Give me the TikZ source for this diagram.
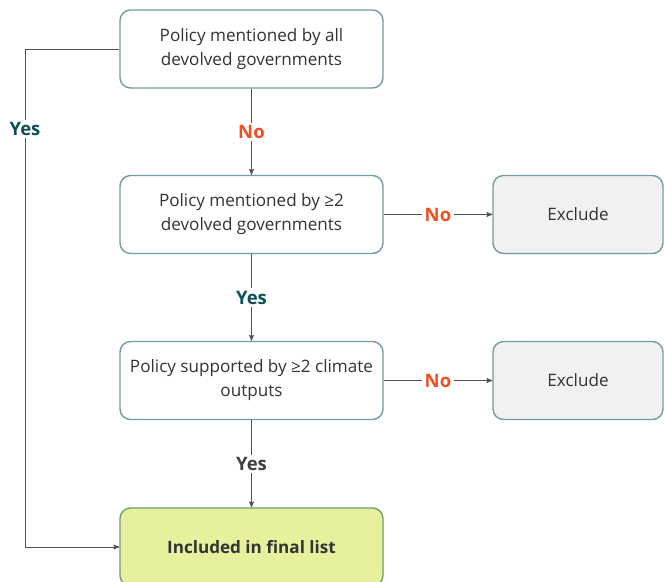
\documentclass[tikz,border=0pt]{standalone}
\usepackage{fontspec}
\setmainfont{Open Sans}
\usepackage{xcolor}
\usetikzlibrary{arrows,positioning}
\tikzset{>=stealth'}
\definecolor{boxline}{RGB}{112,156,160}
\definecolor{exfill}{RGB}{241,241,241}
\definecolor{infill}{RGB}{231,241,157}
\definecolor{inline}{RGB}{108,160,112}
\definecolor{noclr}{RGB}{240,78,35}
\definecolor{yesclr}{RGB}{12,80,86}
\definecolor{arrowclr}{RGB}{80,80,80}

\begin{document}
\begin{tikzpicture}[x=0.03cm,y=-0.03cm,
                    step box/.style={draw=boxline, line width=1.2pt, rounded corners=9pt,
                                     fill=white, minimum width=7.89cm, minimum height=2.34cm,
                                     align=center, text=black!80, font=\fontsize{14.6}{20.5}\selectfont},
                    exclude box/.style={step box, fill=exfill, minimum width=5.1cm},
                    final box/.style={step box, draw=inline, fill=infill, font=\fontsize{14.6}{20.5}\selectfont\bfseries},
                    link/.style={arrowclr, line width=0.8pt, ->, >={stealth'[scale=1.3]}},
                    no/.style={fill=white, text=noclr, font=\fontsize{15.8}{19}\selectfont\bfseries, inner sep=2pt},
                    yes/.style={fill=white, text=yesclr, font=\fontsize{15.8}{19}\selectfont\bfseries, inner sep=2pt},
                   ]

\useasboundingbox (0,0) rectangle (664,582);

% main column
\node[step box] (all) at (251.5,49) {Policy mentioned by all\\devolved governments};
\node[step box] (two) at (251.5,214.5) {Policy mentioned by ≥2\\devolved governments};
\node[step box] (climate) at (251.5,380.5) {Policy supported by ≥2 climate\\outputs};
\node[final box] (final) at (251.5,547) {Included in final list};

% excluded
\node[exclude box] (exone) at (578,214.5) {Exclude};
\node[exclude box] (extwo) at (578,380.5) {Exclude};

\draw[link] (all) -- node[no]{No} (two);
\draw[link] (two) -- node[yes]{Yes} (climate);
\draw[link] (climate) -- node[yes,text=black!75]{Yes} (final);
\draw[link] (two) -- node[no]{No} (exone);
\draw[link] (climate) -- node[no]{No} (extwo);

\coordinate (top) at (25,49);
\coordinate (bottom) at (25,547);
\draw[link] (all.west) -- (top) -- (bottom) -- (final.west);
\node[yes] (yesall) at (25,129) {Yes};

\end{tikzpicture}
\end{document}
